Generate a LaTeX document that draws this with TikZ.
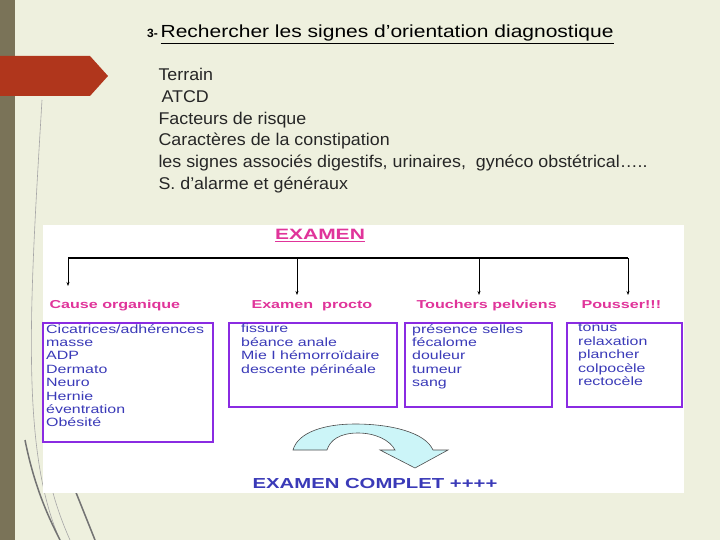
\documentclass[tikz,border=0pt]{standalone}
\usepackage{fontspec}
\setmainfont{Liberation Sans}
\newfontfamily\wideA[FakeStretch=1.33]{Liberation Sans}
\newfontfamily\wideB[FakeStretch=1.4]{Liberation Sans}
\newfontfamily\wideC[FakeStretch=1.2]{Liberation Sans}
\newfontfamily\wideD[FakeStretch=1.05]{Liberation Sans}
\usetikzlibrary{arrows.meta}
\definecolor{bg}{HTML}{EEF0DE}
\definecolor{band}{HTML}{7A7358}
\definecolor{redarr}{HTML}{B0361C}
\definecolor{mag}{HTML}{E0349A}
\definecolor{purp}{HTML}{8A2BE2}
\definecolor{txtb}{HTML}{3A3AB8}
\definecolor{cyanf}{HTML}{CCF5F8}
\tikzset{
  top/.style={anchor=base west,font=\wideD\fontsize{17}{20}\selectfont,text=black!85},
  head/.style={anchor=base west,font=\wideB\fontsize{11.5}{13}\selectfont\bfseries,text=mag},
  box/.style={draw=purp,line width=2.2pt},
  item/.style={anchor=north west,align=left,font=\wideA\fontsize{12}{13.4}\selectfont,text=txtb,inner sep=0pt,
    execute at begin node={\setlength{\baselineskip}{13.4pt}\rule{0pt}{11pt}}},
  drop/.style={-{Stealth[length=4pt,width=3pt]},line width=0.6pt}
}
\begin{document}
\begin{tikzpicture}[x=1pt,y=-1pt]
\fill[bg] (0,0) rectangle (720,540);
\useasboundingbox (0,0) rectangle (720,540);
\fill[band] (0,0) rectangle (15,540);
\draw[black!35,line width=0.6pt] (42,100) .. controls (30,300) and (20,450) .. (60,540);
\draw[black!35,line width=0.6pt] (80,330) .. controls (40,380) and (30,450) .. (70,540);
\draw[black!55,line width=1.5pt] (25,440) .. controls (35,490) and (50,520) .. (60,540);
\draw[black!55,line width=1.5pt] (75,490) -- (95,540);
\fill[redarr] (0,56) -- (90,56) -- (108,76) -- (90,96) -- (0,96) -- cycle;
\node[anchor=base west,inner sep=0pt] (title) at (147,38) {{\fontsize{12}{13}\selectfont\bfseries 3-} {\wideC\fontsize{17.5}{20}\selectfont\underline{Rechercher les signes d’orientation diagnostique}}};
\node[top] (l1) at (155,81) {Terrain};
\node[top] (l2) at (158,103) {ATCD};
\node[top] (l3) at (155,125) {Facteurs de risque};
\node[top] (l4) at (155,146) {Caractères de la constipation};
\node[top] (l5) at (155,168) {les signes associés digestifs, urinaires,\ \ gynéco obstétrical…..};
\node[top] (l6) at (155,190) {S. d’alarme et généraux};
\fill[white] (43,225) rectangle (684,493);
\node[anchor=base,font=\wideB\fontsize{15}{17}\selectfont\bfseries,text=mag,inner sep=0pt] (ex) at (320,240) {\underline{EXAMEN}};
\coordinate (bl) at (68,258); \coordinate (br) at (628,258);
\draw[line width=2.2pt] (bl) -- (br);
\coordinate (d1) at (68,286); \coordinate (d2) at (297,295); \coordinate (d3) at (479,295); \coordinate (d4) at (628,295);
\draw[drop] (68,258) -- (d1);
\draw[drop] (297,258) -- (d2);
\draw[drop] (479,258) -- (d3);
\draw[drop] (628,258) -- (d4);
\node[head] (h1) at (46,308) {Cause organique};
\node[head] (h2) at (248,308) {Examen\ \ procto};
\node[head] (h3) at (413,308) {Touchers pelviens};
\node[head] (h4) at (578,308) {Pousser!!!};
\draw[box] (43,323) rectangle (213,442);
\draw[box] (229,323) rectangle (397,407);
\draw[box] (405,323) rectangle (552,407);
\draw[box] (567,323) rectangle (682,407);
\node[item] (t1) at (46,324) {Cicatrices/adhérences\\masse\\ADP\\Dermato\\Neuro\\Hernie\\éventration\\Obésité};
\node[item] (t2) at (241,324) {fissure\\béance anale\\Mie I hémorroïdaire\\descente périnéale};
\node[item] (t3) at (412,324) {présence selles\\fécalome\\douleur\\tumeur\\sang};
\node[item] (t4) at (578,324) {tonus\\relaxation\\plancher\\colpocèle\\rectocèle};
\draw[fill=cyanf,draw=black!70,line width=0.6pt] (293,450) .. controls (298,432) and (325,424) .. (355,424) .. controls (390,424) and (425,432) .. (433,450) -- (448,450) -- (415,468) -- (380,450) -- (395,450) .. controls (390,440) and (375,433) .. (358,433) .. controls (340,433) and (330,440) .. (327,450) -- cycle;
\node[anchor=base,font=\wideB\fontsize{14.5}{17}\selectfont\bfseries,text=txtb,inner sep=0pt] (ec) at (375,488) {EXAMEN COMPLET ++++};
\end{tikzpicture}
\end{document}
